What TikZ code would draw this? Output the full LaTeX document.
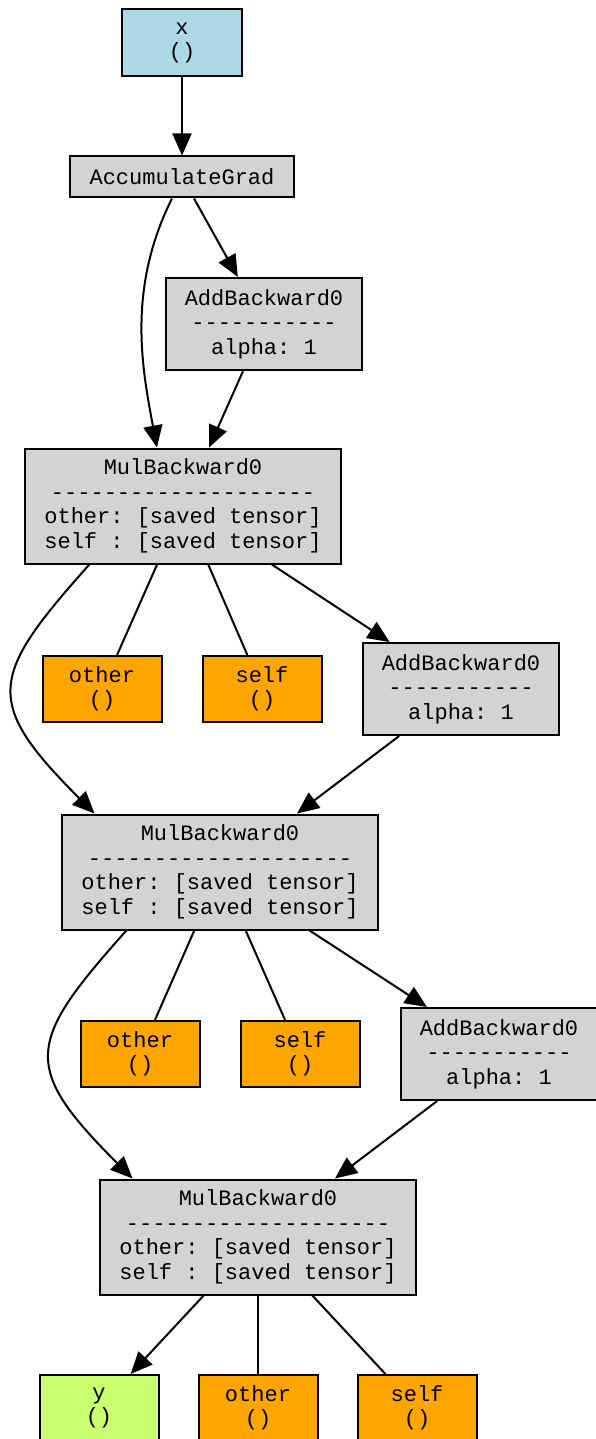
\documentclass[tikz,border=0pt]{standalone}
\usepackage{fontspec}
\setmonofont{Liberation Mono}
\usetikzlibrary{arrows.meta}
\usetikzlibrary{calc}
\usepackage{xcolor}
\definecolor{leafblue}{HTML}{ADD8E6}
\definecolor{fngray}{HTML}{D3D3D3}
\definecolor{savedorange}{HTML}{FFA500}
\definecolor{outgreen}{HTML}{CAFF70}

\begin{document}
\begin{tikzpicture}[
    x=0.5pt, y=-0.5pt,
    >={Triangle[length=11pt, width=9.5pt]},
    line width=1pt,
    every node/.style={rectangle, draw, inner sep=0pt, align=center,
        font=\ttfamily\fontsize{11}{12.25}\selectfont\frenchspacing},
    leafbox/.style={fill=leafblue, minimum width=60pt, minimum height=33.5pt},
    accbox/.style={fill=fngray, minimum width=112pt, minimum height=20.5pt},
    addbox/.style={fill=fngray, minimum width=98pt, minimum height=46pt},
    mulbox/.style={fill=fngray, minimum width=158pt, minimum height=57.5pt},
    savedbox/.style={fill=savedorange, minimum width=59.5pt, minimum height=33pt},
    resultbox/.style={fill=outgreen, minimum width=59.5pt, minimum height=33pt}
]
\useasboundingbox (0,0) rectangle (595,1439);

% Nodes
\node[leafbox] (x) at (182,43) {x\\()};
\node[accbox] (acc) at (182,177) {AccumulateGrad};
\node[addbox] (add1) at (264,324) {AddBackward0\\-----------\\alpha: 1};
\node[mulbox] (mul1) at (183,506) {MulBackward0\\--------------------\\other: [saved tensor]\\self : [saved tensor]};
\node[savedbox] (other1) at (102,689) {other\\()};
\node[savedbox] (self1) at (262,689) {self\\()};
\node[addbox] (add2) at (461,689) {AddBackward0\\-----------\\alpha: 1};
\node[mulbox] (mul2) at (220,872) {MulBackward0\\--------------------\\other: [saved tensor]\\self : [saved tensor]};
\node[savedbox] (other2) at (140,1054) {other\\()};
\node[savedbox] (self2) at (300,1054) {self\\()};
\node[addbox] (add3) at (499,1054) {AddBackward0\\-----------\\alpha: 1};
\node[mulbox] (mul3) at (258,1237) {MulBackward0\\--------------------\\other: [saved tensor]\\self : [saved tensor]};
\node[resultbox] (y) at (99,1408) {y\\()};
\node[savedbox] (other3) at (258,1408) {other\\()};
\node[savedbox] (self3) at (417,1408) {self\\()};

% Edges from the leaf
\draw[->] (x) -- (acc);
\draw[->] (acc) -- (add1);
\draw[->] (acc.-115) .. controls +(-45,90) and +(-15,-80) .. (mul1.114);
\draw[->] (add1) -- (mul1);

% Edges from MulBackward0 (1)
\draw (mul1) -- (other1);
\draw (mul1) -- (self1);
\draw[->] (mul1) -- (add2);
\draw[->] (mul1.-148) .. controls +(-100,112) and +(-112,-112) .. (mul2.155);
\draw[->] (add2) -- (mul2);

% Edges from MulBackward0 (2)
\draw (mul2) -- (other2);
\draw (mul2) -- (self2);
\draw[->] (mul2) -- (add3);
\draw[->] (mul2.-148) .. controls +(-100,112) and +(-112,-112) .. (mul3.155);
\draw[->] (add3) -- (mul3);

% Edges from MulBackward0 (3)
\draw[->] (mul3) -- (y);
\draw (mul3) -- (other3);
\draw (mul3) -- (self3);

\end{tikzpicture}
\end{document}
